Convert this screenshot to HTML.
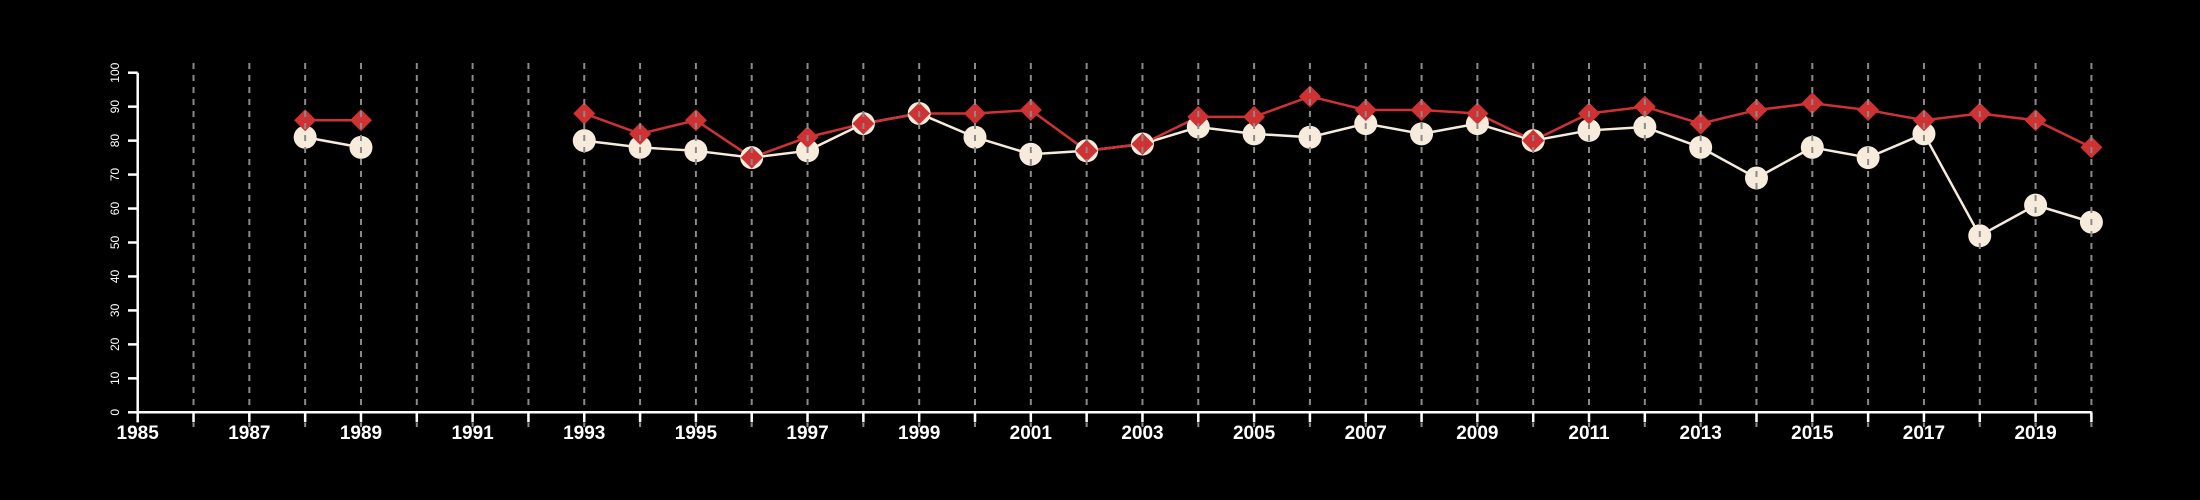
<!DOCTYPE html>
<html><head><meta charset="utf-8"><style>
html,body{margin:0;padding:0;background:#000;width:2200px;height:500px;overflow:hidden}
svg{display:block}
text{font-family:"Liberation Sans",sans-serif;fill:#fff}
</style></head><body>
<svg id="chart" width="2200" height="500" xmlns="http://www.w3.org/2000/svg">
<rect width="2200" height="500" fill="#000"/>
</svg>
<script>
const years=[1988,1989,1993,1994,1995,1996,1997,1998,1999,2000,2001,2002,2003,2004,2005,2006,2007,2008,2009,2010,2011,2012,2013,2014,2015,2016,2017,2018,2019,2020];
const redValues=[86,86,88,82,86,75,81,85,88,88,89,77,79,87,87,93,89,89,88,80,88,90,85,89,91,89,86,88,86,78];
const whiteValues=[81,78,80,78,77,75,77,85,88,81,76,77,79,84,82,81,85,82,85,80,83,84,78,69,78,75,82,52,61,56];
const yTicks=[0,10,20,30,40,50,60,70,80,90,100];
const xLabels=[1985,1987,1989,1991,1993,1995,1997,1999,2001,2003,2005,2007,2009,2011,2013,2015,2017,2019];

const svg=document.getElementById('chart');
const NS='http://www.w3.org/2000/svg';
const x=yr=>137.7+(yr-1985)*55.82;
const y=v=>412.3-v*3.396;
function mk(tag,attrs){const e=document.createElementNS(NS,tag);for(const k in attrs)e.setAttribute(k,attrs[k]);svg.appendChild(e);return e;}

// segments (break where year gap > 1)
function drawSeries(vals,color,name){
  let seg=[];
  const flush=()=>{if(seg.length>1){const p=mk('polyline',{points:seg.join(' '),fill:'none',stroke:color,'stroke-width':2.5});

}seg=[];};
  years.forEach((yr,i)=>{if(i>0&&yr-years[i-1]>1)flush();seg.push(x(yr)+','+y(vals[i]));});
  flush();
}
drawSeries(whiteValues,'#f7ebdc','white-series');
drawSeries(redValues,'#d03234','red-series');
years.forEach((yr,i)=>{
  const c=mk('circle',{cx:x(yr),cy:y(whiteValues[i]),r:11.5,fill:'#f7ebdc'});
  
  
});
years.forEach((yr,i)=>{
  const cx=x(yr),cy=y(redValues[i]),s=11;
  const d=mk('polygon',{points:`${cx},${cy-s} ${cx+s},${cy} ${cx},${cy+s} ${cx-s},${cy}`,fill:'#d03234'});
  
  
});
// gridlines over markers
for(let yr=1986;yr<=2020;yr++){
  const g=mk('line',{x1:x(yr),x2:x(yr),y1:63,y2:427,stroke:'#8a8a8a','stroke-width':2,'stroke-dasharray':'6,6'});
  
  
}
// axes
const ya=mk('line',{x1:137.7,x2:137.7,y1:y(0),y2:y(100),stroke:'#fff','stroke-width':2.5});


yTicks.forEach(v=>{
  const t=mk('line',{x1:128,x2:137.7,y1:y(v),y2:y(v),stroke:'#fff','stroke-width':2.5});
  
  
  const l=mk('text',{x:0,y:0,'font-size':12,'text-anchor':'middle',transform:`translate(119,${y(v)}) rotate(-90)`});
  l.textContent=v;
  
  
});
const xa=mk('line',{x1:x(1985),x2:x(2020),y1:y(0),y2:y(0),stroke:'#fff','stroke-width':2.5});


for(let yr=1985;yr<=2020;yr++){
  const t=mk('line',{x1:x(yr),x2:x(yr),y1:y(0),y2:y(0)+10,stroke:'#fff','stroke-width':2.5});
  
  
}
xLabels.forEach(yr=>{
  const l=mk('text',{x:x(yr),y:439,'font-size':19,'font-weight':'bold','text-anchor':'middle'});
  l.textContent=yr;
  
  
});
</script>
</body></html>
